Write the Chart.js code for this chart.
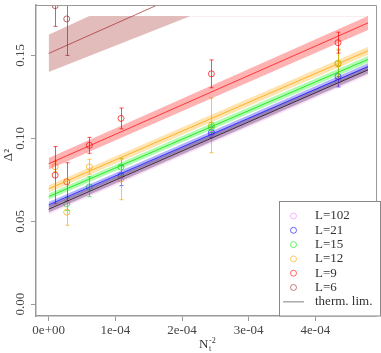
<!DOCTYPE html>
<html>
<head>
<meta charset="utf-8">
<script src="https://cdn.jsdelivr.net/npm/chart.js@4.4.1/dist/chart.umd.min.js"></script>
<style>
  body { margin: 0; background: #fff; }
  #wrap { width: 381px; height: 353px; }
</style>
</head>
<body>
<div id="wrap"><canvas id="lineChart" width="381" height="353"></canvas></div>
<script>
// N_t^-2 of the runs (Nt = 320, 192, 128, 96, 64, 48)
let nt2 = [9.77e-6, 2.71e-5, 6.10e-5, 1.085e-4, 2.441e-4, 4.34e-4];

// ticks
let xTicks = [0, 1e-4, 2e-4, 3e-4, 4e-4];
let xTickLabels = ['0e+00', '1e-04', '2e-04', '3e-04', '4e-04'];
let yTicks = [0, 0.05, 0.10, 0.15];
let yTickLabels = ['0.00', '0.05', '0.10', '0.15'];

let legendLabels = ['L=102', 'L=21', 'L=15', 'L=12', 'L=9', 'L=6', 'therm. lim.'];

// measured points + errors
let x6 = [nt2[0], nt2[1], nt2[2]];
let y6 = [0.180, 0.172, 0.197];
let e6 = [0.0125, 0.022, 0.016];

let x9 = nt2;
let y9 = [0.0778, 0.0738, 0.0958, 0.1120, 0.1389, 0.1577];
let e9 = [0.0172, 0.0115, 0.0048, 0.0063, 0.0084, 0.0063];

let x12 = nt2;
let y12 = [0.0829, 0.0555, 0.0829, 0.0755, 0.1078, 0.1448];
let e12 = [0.0030, 0.0079, 0.0045, 0.0125, 0.0165, 0.0090];

let x15 = [nt2[1], nt2[2], nt2[3], nt2[4], nt2[5]];
let y15 = [0.0605, 0.0708, 0.0827, 0.1065, 0.1452];
let e15 = [0.0040, 0.0060, 0.0050, 0.0030, 0.0080];

let x21 = [nt2[3], nt2[4], nt2[5]];
let y21 = [0.0775, 0.1036, 0.1373];
let e21 = [0.0060, 0.0030, 0.0063];

let x102 = [nt2[4], nt2[5]];
let y102 = [0.1020, 0.1345];
let e102 = [0.0020, 0.0030];

// linear fits (value at x = 0 and at the end), with error bands
let xFit = [0, 4.79e-4];
let fitT = [0.0573, 0.1413];
let upT = [0.0593, 0.1435];
let loT = [0.0553, 0.1391];
let fit102 = [0.0568, 0.1408];
let up102 = [0.0593, 0.1435];
let lo102 = [0.0543, 0.1381];
let fit21 = [0.0599, 0.1433];
let up21 = [0.0617, 0.1453];
let lo21 = [0.0581, 0.1413];
let fit15 = [0.0649, 0.1476];
let up15 = [0.0667, 0.1496];
let lo15 = [0.0631, 0.1456];
let fit12 = [0.0696, 0.1528];
let up12 = [0.0718, 0.1552];
let lo12 = [0.0674, 0.1504];
let fit9 = [0.0847, 0.1696];
let up9 = [0.0882, 0.1738];
let lo9 = [0.0812, 0.1654];
let fit6 = [0.1512, 0.2370];
// L=6 band is cut off at the top
let xUp6 = [0, 6.1e-5, 4.79e-4];
let up6 = [0.1625, 0.1738, 0.1738];
let xLo6 = [0, 2.12e-4, 4.79e-4];
let lo6 = [0.1400, 0.1736, 0.1736];

// colours
let rgb102 = '238,130,238';
let rgb21 = '0,0,255';
let rgb15 = '0,235,0';
let rgb12 = '255,165,0';
let rgb9 = '255,0,0';
let rgb6 = '165,42,42';

function pts(xs, ys) {
  return xs.map((x, i) => ({ x: x, y: ys[i] }));
}

function lineSet(xs, ys, color, order) {
  return { data: pts(xs, ys), showLine: true, borderColor: color, borderWidth: 1, pointRadius: 0, fill: false, order: order };
}

function bandSet(xu, yu, xl, yl, color, order) {
  return [
    { data: pts(xu, yu), showLine: true, borderWidth: 0, borderColor: 'rgba(0,0,0,0)', pointRadius: 0, fill: '+1', backgroundColor: color, order: order },
    { data: pts(xl, yl), showLine: true, borderWidth: 0, borderColor: 'rgba(0,0,0,0)', pointRadius: 0, fill: false, order: order }
  ];
}

// points sit under the bands
function pointSet(xs, ys, es, color) {
  return { data: pts(xs, ys), errs: es, showLine: false, pointRadius: 3, pointBorderWidth: 1, borderColor: color, pointBorderColor: color, pointBackgroundColor: 'rgba(0,0,0,0)', order: 60 };
}

let datasets = [].concat(
  [
    pointSet(x6, y6, e6, 'rgba(' + rgb6 + ',0.7)'),
    pointSet(x9, y9, e9, 'rgba(' + rgb9 + ',0.7)'),
    pointSet(x12, y12, e12, 'rgba(' + rgb12 + ',0.7)'),
    pointSet(x15, y15, e15, 'rgba(' + rgb15 + ',0.7)'),
    pointSet(x21, y21, e21, 'rgba(' + rgb21 + ',0.6)'),
    pointSet(x102, y102, e102, 'rgba(' + rgb102 + ',0.7)')
  ],
  bandSet(xUp6, up6, xLo6, lo6, 'rgba(' + rgb6 + ',0.32)', 40),
  bandSet(xFit, up9, xFit, lo9, 'rgba(' + rgb9 + ',0.30)', 39),
  bandSet(xFit, up12, xFit, lo12, 'rgba(' + rgb12 + ',0.30)', 38),
  bandSet(xFit, up15, xFit, lo15, 'rgba(' + rgb15 + ',0.30)', 37),
  bandSet(xFit, up21, xFit, lo21, 'rgba(' + rgb21 + ',0.30)', 36),
  bandSet(xFit, up102, xFit, lo102, 'rgba(' + rgb102 + ',0.25)', 35),
  bandSet(xFit, upT, xFit, loT, 'rgba(80,70,90,0.40)', 34),
  [
    lineSet(xFit, fit6, 'rgba(' + rgb6 + ',0.7)', 20),
    lineSet(xFit, fit9, 'rgba(' + rgb9 + ',0.7)', 20),
    lineSet(xFit, fit12, 'rgba(' + rgb12 + ',0.8)', 20),
    lineSet(xFit, fit15, 'rgba(' + rgb15 + ',0.8)', 20),
    lineSet(xFit, fit21, 'rgba(' + rgb21 + ',0.7)', 20),
    lineSet(xFit, fit102, 'rgba(' + rgb102 + ',0.6)', 20),
    lineSet(xFit, fitT, 'rgba(30,30,30,0.85)', 19)
  ]
);

let legendColors = [rgb102, rgb21, rgb15, rgb12, rgb9, rgb6].map(c => 'rgba(' + c + ',0.6)');

// error bars under the markers
const errorBars = {
  id: 'errorBars',
  beforeDatasetDraw(chart, args) {
    const ds = chart.data.datasets[args.index];
    if (!ds.errs) return;
    const ctx = chart.ctx, xs = chart.scales.x, ys = chart.scales.y, a = chart.chartArea;
    ctx.save();
    ctx.beginPath();
    ctx.rect(a.left, a.top, a.right - a.left, a.bottom - a.top);
    ctx.clip();
    ctx.strokeStyle = ds.borderColor;
    ctx.lineWidth = 1;
    ds.data.forEach((p, i) => {
      const px = Math.round(xs.getPixelForValue(p.x)) + 0.5;
      const lo = ys.getPixelForValue(p.y - ds.errs[i]);
      const hi = ys.getPixelForValue(p.y + ds.errs[i]);
      ctx.beginPath();
      ctx.moveTo(px, lo); ctx.lineTo(px, hi);
      ctx.moveTo(px - 2, lo); ctx.lineTo(px + 2, lo);
      ctx.moveTo(px - 2, hi); ctx.lineTo(px + 2, hi);
      ctx.stroke();
    });
    ctx.restore();
  }
};

// frame, y labels, axis titles, legend
const decor = {
  id: 'decor',
  afterDraw(chart) {
    const ctx = chart.ctx, a = chart.chartArea, ys = chart.scales.y;
    ctx.save();
    ctx.strokeStyle = '#999';
    ctx.lineWidth = 1;
    ctx.beginPath();
    ctx.moveTo(a.left, a.top + 0.5); ctx.lineTo(a.right + 0.5, a.top + 0.5); ctx.lineTo(a.right + 0.5, a.bottom);
    ctx.stroke();

    ctx.font = '13px "Liberation Serif"';
    ctx.fillStyle = '#444';
    ctx.textAlign = 'center';
    ctx.textBaseline = 'middle';
    yTicks.forEach((v, i) => {
      ctx.save();
      ctx.translate(21, ys.getPixelForValue(v));
      ctx.rotate(-Math.PI / 2);
      ctx.fillText(yTickLabels[i], 0, 0);
      ctx.restore();
    });

    // y title
    ctx.save();
    ctx.translate(9, 155);
    ctx.rotate(-Math.PI / 2);
    ctx.fillStyle = '#333';
    ctx.fillText('Δ²', 0, 0);
    ctx.restore();

    // x title N_t^-2
    ctx.fillStyle = '#333';
    ctx.textAlign = 'left';
    ctx.textBaseline = 'alphabetic';
    ctx.fillText('N', 199, 348);
    ctx.font = '8px "Liberation Serif"';
    ctx.fillText('-2', 209, 343);
    ctx.fillText('t', 209, 351);

    // legend box
    const lx = 279.5, ly = 201.5, lw = 101, lh = a.bottom - ly;
    ctx.fillStyle = '#fff';
    ctx.fillRect(lx, ly, lw, lh);
    ctx.strokeStyle = '#888';
    ctx.strokeRect(lx, ly, lw, lh);
    ctx.font = '13px "Liberation Serif"';
    ctx.textBaseline = 'middle';
    legendLabels.forEach((t, i) => {
      const ry = ly + 14.5 + i * 14.3;
      if (i < legendColors.length) {
        ctx.strokeStyle = legendColors[i];
        ctx.lineWidth = 1;
        ctx.beginPath();
        ctx.arc(293.5, ry, 3, 0, Math.PI * 2);
        ctx.stroke();
      } else {
        ctx.strokeStyle = '#aaa';
        ctx.lineWidth = 1.5;
        ctx.beginPath();
        ctx.moveTo(283, ry); ctx.lineTo(304, ry);
        ctx.stroke();
      }
      ctx.fillStyle = '#333';
      ctx.fillText(t, 315, ry);
    });
    ctx.restore();
  }
};

let lineCtx = document.getElementById('lineChart');
let lineChart = new Chart(lineCtx, {
  type: 'scatter',
  data: { datasets: datasets },
  plugins: [errorBars, decor],
  options: {
    responsive: false,
    animation: false,
    layout: { padding: { top: 1, right: 5, left: 0, bottom: 0 } },
    plugins: { legend: { display: false }, tooltip: { enabled: false } },
    elements: { line: { tension: 0 } },
    scales: {
      x: {
        type: 'linear',
        min: -1.9e-5,
        max: 4.91e-4,
        afterBuildTicks: s => { s.ticks = xTicks.map(v => ({ value: v })); },
        afterFit: s => { s.height = 37; },
        ticks: {
          callback: (v, i) => xTickLabels[i],
          font: { family: 'Liberation Serif', size: 13 },
          color: '#444',
          padding: 2,
          maxRotation: 0,
          autoSkip: false
        },
        grid: { display: true, drawOnChartArea: false, drawTicks: true, tickLength: 5, color: '#999' },
        border: { display: true, color: '#999', width: 1.5 }
      },
      y: {
        type: 'linear',
        min: -0.0071,
        max: 0.1804,
        afterBuildTicks: s => { s.ticks = yTicks.map(v => ({ value: v })); },
        afterFit: s => { s.width = 36; },
        ticks: { display: false },
        grid: { display: true, drawOnChartArea: false, drawTicks: true, tickLength: 5, color: '#999' },
        border: { display: true, color: '#999', width: 1.5 }
      }
    }
  }
});
</script>
</body>
</html>
